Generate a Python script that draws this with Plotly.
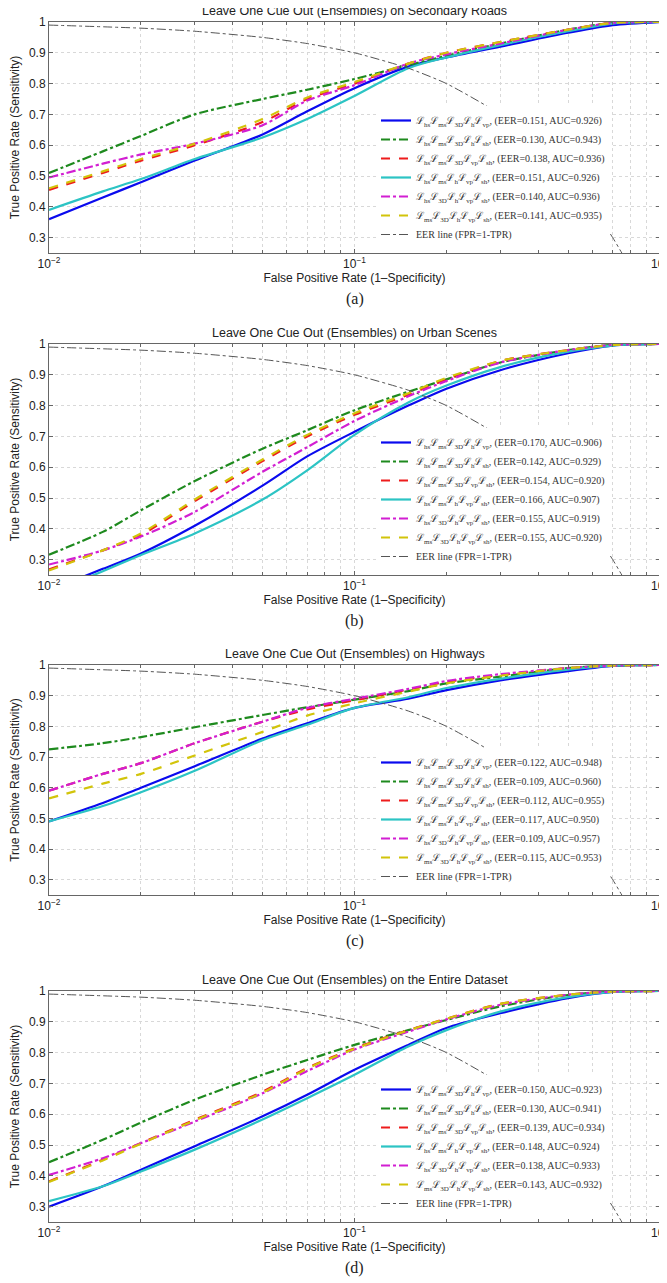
import plotly.graph_objects as go

# ---------------- data ----------------
fpr = [0.01, 0.015, 0.02, 0.03, 0.05, 0.07, 0.1, 0.15, 0.2, 0.3, 0.5, 0.7, 1.0]

eer_fpr = [0.01, 0.02, 0.03, 0.05, 0.07, 0.1, 0.15, 0.2, 0.3, 0.4, 0.5, 0.6, 0.7, 0.75, 0.8, 0.9, 1.0]
eer_tpr = [0.99, 0.98, 0.97, 0.95, 0.93, 0.9, 0.85, 0.8, 0.7, 0.6, 0.5, 0.4, 0.3, 0.25, 0.2, 0.1, 0.0]

panel_titles = [
    "Leave One Cue Out (Ensembles) on Secondary Roads",
    "Leave One Cue Out (Ensembles) on Urban Scenes",
    "Leave One Cue Out (Ensembles) on Highways",
    "Leave One Cue Out (Ensembles) on the Entire Dataset",
]
captions = ["(a)", "(b)", "(c)", "(d)"]

cue_sets = [
    "ℒ<sub>hs</sub>ℒ<sub>ms</sub>ℒ<sub>3D</sub>ℒ<sub>h</sub>ℒ<sub>vp</sub>",
    "ℒ<sub>hs</sub>ℒ<sub>ms</sub>ℒ<sub>3D</sub>ℒ<sub>h</sub>ℒ<sub>sh</sub>",
    "ℒ<sub>hs</sub>ℒ<sub>ms</sub>ℒ<sub>3D</sub>ℒ<sub>vp</sub>ℒ<sub>sh</sub>",
    "ℒ<sub>hs</sub>ℒ<sub>ms</sub>ℒ<sub>h</sub>ℒ<sub>vp</sub>ℒ<sub>sh</sub>",
    "ℒ<sub>hs</sub>ℒ<sub>3D</sub>ℒ<sub>h</sub>ℒ<sub>vp</sub>ℒ<sub>sh</sub>",
    "ℒ<sub>ms</sub>ℒ<sub>3D</sub>ℒ<sub>h</sub>ℒ<sub>vp</sub>ℒ<sub>sh</sub>",
]
eer_label = "EER line (FPR=1-TPR)"

# EER / AUC per panel (a..d), per cue set
eer_vals = [
    [0.151, 0.130, 0.138, 0.151, 0.140, 0.141],
    [0.170, 0.142, 0.154, 0.166, 0.155, 0.155],
    [0.122, 0.109, 0.112, 0.117, 0.109, 0.115],
    [0.150, 0.130, 0.139, 0.148, 0.138, 0.143],
]
auc_vals = [
    [0.926, 0.943, 0.936, 0.926, 0.936, 0.935],
    [0.906, 0.929, 0.920, 0.907, 0.919, 0.920],
    [0.948, 0.960, 0.955, 0.950, 0.957, 0.953],
    [0.923, 0.941, 0.934, 0.924, 0.933, 0.932],
]

# TPR curves: panel (a) Secondary Roads
a_blue = [0.36, 0.43, 0.48, 0.55, 0.635, 0.71, 0.785, 0.855, 0.885, 0.92, 0.965, 0.99, 1.0]
a_green = [0.51, 0.58, 0.63, 0.70, 0.75, 0.78, 0.815, 0.86, 0.89, 0.93, 0.975, 0.997, 1.0]
a_red = [0.455, 0.51, 0.55, 0.60, 0.675, 0.75, 0.80, 0.865, 0.90, 0.935, 0.975, 0.997, 1.0]
a_cyan = [0.39, 0.45, 0.49, 0.555, 0.625, 0.685, 0.76, 0.85, 0.885, 0.925, 0.97, 0.995, 1.0]
a_magenta = [0.495, 0.54, 0.57, 0.605, 0.665, 0.745, 0.795, 0.865, 0.895, 0.93, 0.975, 0.997, 1.0]
a_yellow = [0.46, 0.515, 0.555, 0.605, 0.685, 0.755, 0.805, 0.865, 0.90, 0.935, 0.975, 0.997, 1.0]

# panel (b) Urban Scenes
b_blue = [0.20, 0.27, 0.32, 0.41, 0.54, 0.635, 0.715, 0.80, 0.855, 0.915, 0.97, 0.995, 1.0]
b_green = [0.316, 0.39, 0.46, 0.555, 0.66, 0.72, 0.785, 0.845, 0.885, 0.94, 0.98, 0.997, 1.0]
b_red = [0.268, 0.33, 0.38, 0.49, 0.62, 0.70, 0.77, 0.835, 0.885, 0.945, 0.98, 0.997, 1.0]
b_cyan = [0.19, 0.262, 0.315, 0.385, 0.495, 0.59, 0.705, 0.81, 0.865, 0.925, 0.975, 0.995, 1.0]
b_magenta = [0.284, 0.33, 0.375, 0.455, 0.585, 0.665, 0.75, 0.83, 0.88, 0.94, 0.98, 0.997, 1.0]
b_yellow = [0.265, 0.33, 0.385, 0.495, 0.625, 0.705, 0.775, 0.84, 0.89, 0.945, 0.98, 0.997, 1.0]

# panel (c) Highways
c_blue = [0.49, 0.55, 0.60, 0.67, 0.76, 0.81, 0.86, 0.89, 0.918, 0.95, 0.98, 0.997, 1.0]
c_green = [0.725, 0.745, 0.765, 0.797, 0.837, 0.862, 0.887, 0.915, 0.94, 0.962, 0.99, 0.998, 1.0]
c_red = [0.59, 0.645, 0.68, 0.745, 0.815, 0.855, 0.885, 0.92, 0.945, 0.967, 0.99, 0.998, 1.0]
c_cyan = [0.49, 0.54, 0.585, 0.655, 0.755, 0.805, 0.86, 0.895, 0.925, 0.955, 0.985, 0.998, 1.0]
c_magenta = [0.59, 0.645, 0.68, 0.745, 0.815, 0.86, 0.89, 0.922, 0.948, 0.97, 0.99, 0.998, 1.0]
c_yellow = [0.565, 0.613, 0.645, 0.705, 0.782, 0.835, 0.875, 0.913, 0.94, 0.965, 0.99, 0.998, 1.0]

# panel (d) Entire Dataset
d_blue = [0.30, 0.366, 0.42, 0.496, 0.593, 0.663, 0.744, 0.825, 0.88, 0.928, 0.977, 0.997, 1.0]
d_green = [0.444, 0.517, 0.573, 0.647, 0.728, 0.776, 0.825, 0.873, 0.906, 0.95, 0.987, 0.998, 1.0]
d_red = [0.382, 0.452, 0.506, 0.582, 0.673, 0.75, 0.814, 0.873, 0.91, 0.958, 0.988, 0.998, 1.0]
d_cyan = [0.318, 0.366, 0.414, 0.485, 0.583, 0.652, 0.728, 0.82, 0.873, 0.933, 0.98, 0.997, 1.0]
d_magenta = [0.403, 0.457, 0.506, 0.576, 0.668, 0.74, 0.81, 0.868, 0.908, 0.955, 0.988, 0.998, 1.0]
d_yellow = [0.38, 0.45, 0.504, 0.58, 0.67, 0.748, 0.812, 0.872, 0.91, 0.958, 0.988, 0.998, 1.0]

panels = [
    [a_blue, a_green, a_red, a_cyan, a_magenta, a_yellow],
    [b_blue, b_green, b_red, b_cyan, b_magenta, b_yellow],
    [c_blue, c_green, c_red, c_cyan, c_magenta, c_yellow],
    [d_blue, d_green, d_red, d_cyan, d_magenta, d_yellow],
]

x_tickvals = [0.01, 0.1, 1.0]
x_ticktext = ["10<sup>−2</sup>", "10<sup>−1</sup>", "10<sup>0</sup>"]
x_minor = [0.02, 0.03, 0.04, 0.05, 0.06, 0.07, 0.08, 0.09,
           0.2, 0.3, 0.4, 0.5, 0.6, 0.7, 0.8, 0.9]
y_tickvals = [0.3, 0.4, 0.5, 0.6, 0.7, 0.8, 0.9, 1.0]
y_ticktext = ["0.3", "0.4", "0.5", "0.6", "0.7", "0.8", "0.9", "1"]

# ---------------- styles ----------------
colors = ["#0a0aee", "#1e8a1e", "#ee1c1c", "#2cc4c4", "#d21ed2", "#d2c40a"]
dashes = ["solid", "dashdot", "dash", "solid", "dashdot", "dash"]
OFF = 8                      # page body margin of the html page
W, H = 667 - OFF, 1283 - OFF
px_x0, px_x1 = 49 - OFF, 660 - OFF
panel_px = [(t - OFF, b - OFF) for t, b in [(22, 253), (344, 575), (665, 895), (991, 1222)]]

fig = go.Figure()
layout = dict(
    width=W, height=H,
    margin=dict(l=0, r=0, t=0, b=0, autoexpand=False),
    paper_bgcolor="white", plot_bgcolor="white",
    showlegend=True,
    annotations=[],
)

sans = "Liberation Sans, Arial, sans-serif"
serif = "Liberation Serif, DejaVu Serif, serif"

for i in range(4):
    top, bot = panel_px[i]
    sfx = "" if i == 0 else str(i + 1)
    xa, ya = "x" + sfx, "y" + sfx
    leg = "legend" + sfx
    for j in range(6):
        name = f"{cue_sets[j]}, (EER={eer_vals[i][j]:.3f}, AUC={auc_vals[i][j]:.3f})"
        fig.add_trace(go.Scatter(
            x=fpr, y=panels[i][j], mode="lines", name=name,
            line=dict(color=colors[j], width=2.2, dash=dashes[j], shape="spline", smoothing=0.8),
            xaxis=xa, yaxis=ya, legend=leg, hoverinfo="skip",
        ))
    fig.add_trace(go.Scatter(
        x=eer_fpr, y=eer_tpr, mode="lines", name=eer_label,
        line=dict(color="#555555", width=1, dash="dashdot", shape="spline", smoothing=0.6),
        xaxis=xa, yaxis=ya, legend=leg, hoverinfo="skip",
    ))

    dom_y = [1 - bot / H, 1 - top / H]
    axis_common = dict(
        showline=True, linecolor="#666666", linewidth=1, mirror="ticks",
        ticks="inside", ticklen=4, tickcolor="#666666",
        showgrid=True, gridcolor="#d8d8d8", griddash="dot", gridwidth=1,
        zeroline=False, automargin=False, ticklabeloverflow="allow",
        tickfont=dict(family=sans, size=12, color="#222222"),
    )
    layout["xaxis" + sfx] = dict(
        axis_common, type="log", range=[-2, 0],
        domain=[px_x0 / W, px_x1 / W], anchor=ya,
        tickvals=x_tickvals, ticktext=x_ticktext,
        minor=dict(tickvals=x_minor, showgrid=True, gridcolor="#d8d8d8", griddash="dot",
                   ticks="inside", ticklen=3, tickcolor="#666666"),
        title=dict(text="False Positive Rate (1\u2013Specificity)",
                   font=dict(family=sans, size=12, color="#222222"), standoff=2),
    )
    layout["yaxis" + sfx] = dict(
        axis_common, range=[0.25, 1.0],
        domain=dom_y, anchor=xa,
        tickvals=y_tickvals, ticktext=y_ticktext,
        title=dict(text="True Positive Rate (Sensitivity)",
                   font=dict(family=sans, size=12, color="#222222"), standoff=6),
    )
    layout[leg] = dict(
        x=(376 - OFF) / W, xanchor="left", y=1 - (bot - 4) / H, yanchor="bottom",
        bgcolor="white", borderwidth=0,
        font=dict(family=serif, size=10, color="#333333"),
        itemwidth=30, tracegroupgap=0,
    )
    layout["annotations"].append(dict(
        text=panel_titles[i], xref="paper", yref="paper",
        x=(px_x0 + px_x1) / 2 / W, y=1 - (top - 11) / H, xanchor="center", yanchor="middle",
        showarrow=False, font=dict(family=sans, size=12.5, color="#222222"),
    ))
    layout["annotations"].append(dict(
        text=captions[i], xref="paper", yref="paper",
        x=(px_x0 + px_x1) / 2 / W, y=1 - (bot + 46) / H, xanchor="center", yanchor="middle",
        showarrow=False, font=dict(family=serif, size=16, color="#222222"),
    ))

fig.update_layout(**layout)
fig.write_html("out.html")
